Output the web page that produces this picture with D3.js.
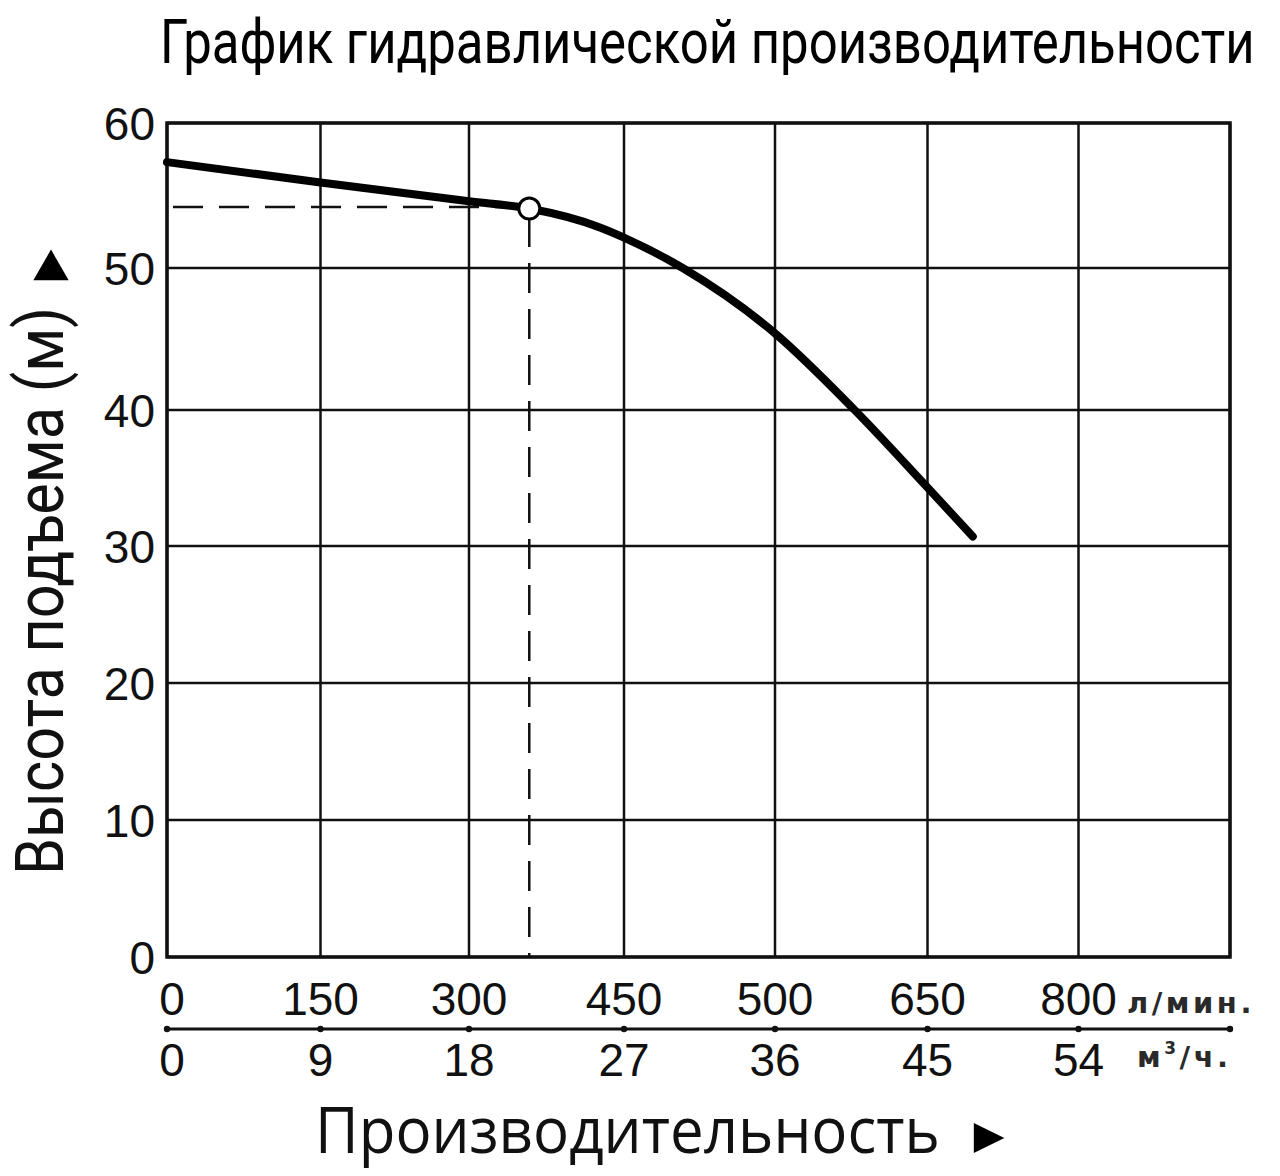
<!DOCTYPE html>
<html>
<head>
<meta charset="utf-8">
<script src="https://cdn.jsdelivr.net/npm/d3@7"></script>
<style>
  body { margin: 0; background: #fff; }
  svg { display: block; }
</style>
</head>
<body>
<div class="graph-container"></div>
<script>
// flow in m3/h and head in m
const flowM3h = [0, 9, 18, 21.5, 25.6, 27, 30.5, 36, 40.7, 45, 47.7];
const headM = [57.3, 55.9, 54.6, 54.1, 52.8, 52.1, 50, 45.4, 40, 34.3, 30.7];

// duty point
const dutyFlow = 21.5;
const dutyHead = 54.2;

const lpmTicks = ["0", "150", "300", "450", "500", "650", "800"];
const m3hTicks = ["0", "9", "18", "27", "36", "45", "54"];
const xGrid = [0, 9, 18, 27, 36, 45, 54, 63];
const yTicks = [0, 10, 20, 30, 40, 50, 60];

const dims = { width: 1280, height: 1176 };

const svg = d3.select(".graph-container")
  .append("svg")
  .attr("width", dims.width)
  .attr("height", dims.height);

// grid in the picture is slightly uneven, so piecewise scales
const x = d3.scaleLinear().domain(xGrid)
  .range([167, 320.5, 469, 624, 775, 927.5, 1078.5, 1230]);
const y = d3.scaleLinear().domain(yTicks)
  .range([957, 820, 683, 546, 410, 268, 123]);

const graph = svg.append("g").attr("class", "graph");

// grid
graph.selectAll("line.vgrid").data(xGrid).enter().append("line")
  .attr("class", "vgrid")
  .attr("x1", d => x(d)).attr("x2", d => x(d))
  .attr("y1", y(0)).attr("y2", y(60))
  .attr("stroke", "#111").attr("stroke-width", 2.5);

graph.selectAll("line.hgrid").data(yTicks).enter().append("line")
  .attr("class", "hgrid")
  .attr("x1", x(0)).attr("x2", x(63))
  .attr("y1", d => y(d)).attr("y2", d => y(d))
  .attr("stroke", "#111").attr("stroke-width", 2.5);

graph.append("rect")
  .attr("x", x(0)).attr("y", y(60))
  .attr("width", x(63) - x(0)).attr("height", y(0) - y(60))
  .attr("fill", "none").attr("stroke", "#111").attr("stroke-width", 3.5);

// dashed guides to duty point
graph.append("line")
  .attr("x1", x(0) + 6).attr("x2", x(dutyFlow))
  .attr("y1", y(dutyHead)).attr("y2", y(dutyHead))
  .attr("stroke", "#111").attr("stroke-width", 2.5)
  .attr("stroke-dasharray", "30,16");

graph.append("line")
  .attr("x1", x(dutyFlow)).attr("x2", x(dutyFlow))
  .attr("y1", y(dutyHead) + 10).attr("y2", y(0))
  .attr("stroke", "#111").attr("stroke-width", 2.5)
  .attr("stroke-dasharray", "30,16");

// curve
const pts = flowM3h.map((q, i) => [q, headM[i]]);
const line = d3.line().x(d => x(d[0])).y(d => y(d[1])).curve(d3.curveMonotoneX);

graph.append("path")
  .attr("d", line(pts))
  .attr("fill", "none").attr("stroke", "#000")
  .attr("stroke-width", 8).attr("stroke-linecap", "round");

graph.append("circle")
  .attr("cx", x(dutyFlow)).attr("cy", y(dutyHead - 0.1))
  .attr("r", 10.5)
  .attr("fill", "#fff").attr("stroke", "#000").attr("stroke-width", 3);

// y tick labels
svg.selectAll("text.ytick").data(yTicks).enter().append("text")
  .attr("class", "ytick")
  .attr("x", 155).attr("y", d => y(d))
  .attr("dy", "0.36em")
  .attr("text-anchor", "end")
  .attr("font-family", "Liberation Sans, Arial, sans-serif")
  .attr("font-size", 46)
  .attr("fill", "#111")
  .text(d => d);

// x tick labels, l/min row
svg.selectAll("text.lpm").data(lpmTicks).enter().append("text")
  .attr("class", "lpm")
  .attr("x", (d, i) => x(xGrid[i]) + (i === 0 ? 5 : 0)).attr("y", 1015)
  .attr("text-anchor", "middle")
  .attr("font-family", "Liberation Sans, Arial, sans-serif")
  .attr("font-size", 46)
  .attr("fill", "#111")
  .text(d => d);

// x tick labels, m3/h row
svg.selectAll("text.m3h").data(m3hTicks).enter().append("text")
  .attr("class", "m3h")
  .attr("x", (d, i) => x(xGrid[i]) + (i === 0 ? 5 : 0)).attr("y", 1076)
  .attr("text-anchor", "middle")
  .attr("font-family", "Liberation Sans, Arial, sans-serif")
  .attr("font-size", 46)
  .attr("fill", "#111")
  .text(d => d);

// second axis line with dot ticks
const axisY = 1029;
svg.append("line")
  .attr("x1", x(0)).attr("x2", x(63) + 3)
  .attr("y1", axisY).attr("y2", axisY)
  .attr("stroke", "#111").attr("stroke-width", 3);

svg.selectAll("circle.tick").data(xGrid).enter().append("circle")
  .attr("class", "tick")
  .attr("cx", d => x(d)).attr("cy", axisY)
  .attr("r", 3.2).attr("fill", "#111");

// units
svg.append("text")
  .attr("x", 1127).attr("y", 1013)
  .attr("font-family", "DejaVu Sans, sans-serif")
  .attr("font-weight", "bold")
  .attr("font-size", 29)
  .attr("letter-spacing", 3.5)
  .attr("fill", "#2a2a2a")
  .text("л/мин.");

const m3 = svg.append("text")
  .attr("x", 1137).attr("y", 1067)
  .attr("font-family", "DejaVu Sans, sans-serif")
  .attr("font-weight", "bold")
  .attr("font-size", 29)
  .attr("letter-spacing", 3.5)
  .attr("fill", "#2a2a2a");
m3.append("tspan").text("м");
m3.append("tspan").attr("font-size", 17).attr("dy", -13).text("3");
m3.append("tspan").attr("dy", 13).text("/ч.");

// fit a text horizontally to a given width by scaling
function fitText(sel, width) {
  const w = sel.node().getComputedTextLength();
  return width / w;
}

// title (condensed look)
const title = svg.append("text")
  .attr("font-family", "Roboto, sans-serif")
  .attr("font-size", 61)
  .attr("fill", "#000")
  .text("График гидравлической производительности");
const ts = fitText(title, 1095);
title.attr("transform", `translate(160,63) scale(${ts},1)`);

// y axis title
const yTitle = svg.append("text")
  .attr("font-family", "Roboto, sans-serif")
  .attr("font-size", 66)
  .attr("fill", "#111")
  .text("Высота подъема (м)");
const ys = fitText(yTitle, 568);
yTitle.attr("transform", `translate(63,875) rotate(-90) scale(${ys},1)`);

// x axis title
const xTitle = svg.append("text")
  .attr("font-family", "Open Sans, sans-serif")
  .attr("font-size", 64)
  .attr("fill", "#111")
  .text("Производительность");
const xs = fitText(xTitle, 625);
xTitle.attr("transform", `translate(315,1153) scale(${xs},1)`);

// arrow markers
const tri = d3.symbol().type(d3.symbolTriangle).size(540);
svg.append("path")
  .attr("d", tri())
  .attr("transform", "translate(51,270)")
  .attr("fill", "#000");
svg.append("path")
  .attr("d", tri())
  .attr("transform", "translate(984,1138) rotate(90) scale(0.85,1)")
  .attr("fill", "#000");
</script>
</body>
</html>
